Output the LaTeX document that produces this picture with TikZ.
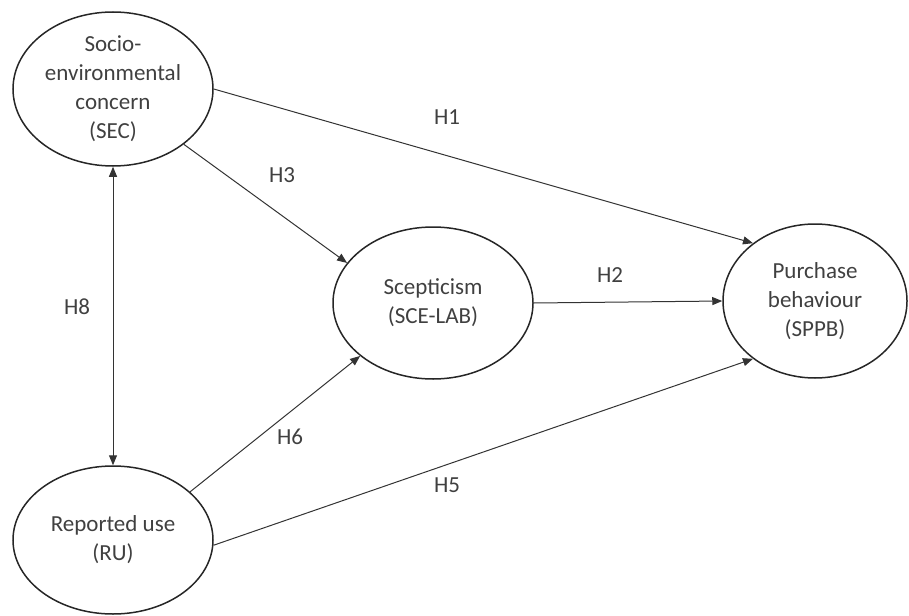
\documentclass[tikz,border=0pt]{standalone}
\usepackage{fontspec}
\setmainfont{Carlito}
\usetikzlibrary{positioning, arrows.meta, shapes.geometric}

\tikzset{
  construct/.style={ellipse, draw=black!85, line width=0.75pt, inner sep=0pt,
    minimum width=100pt, minimum height=77pt, align=center, text=black!75,
    font=\fontsize{11.5pt}{14.5pt}\selectfont},
  path/.style={->, draw=black!80, line width=0.5pt},
  hyp/.style={text=black!75, font=\fontsize{11.5pt}{14.5pt}\selectfont}
}

\begin{document}
\begin{tikzpicture}[x=0.5pt, y=-0.5pt, >={Triangle[length=5pt,width=4pt]}]

% Bounding box
\useasboundingbox (0,0) rectangle (909,615);

% Constructs
\node[construct] (sec) at (113,89) {Socio-\\environmental\\concern\\(SEC)};
\node[construct, minimum height=76pt] (sce) at (433,303) {Scepticism\\(SCE-LAB)};
\node[construct, minimum width=92pt] (pb) at (815,301) {Purchase\\behaviour\\(SPPB)};
\node[construct, minimum height=74pt] (ru) at (113,540) {Reported use\\(RU)};

% Hypothesised paths
\draw[path] (sec.east) -- (pb.137);
\draw[path] (sec.-38) -- (sce.155);
\draw[path] (sce.east) -- (pb.west);
\draw[path] (ru.32) -- (sce.216);
\draw[path] (ru.-3) -- (pb.223);
\draw[path, <->] (sec.south) -- (ru.north);

% Hypothesis labels
\node[hyp] (h1) at (447,117) {H1};
\node[hyp] (h3) at (282,175) {H3};
\node[hyp] (h2) at (610,275) {H2};
\node[hyp] (h8) at (77,307) {H8};
\node[hyp] (h6) at (290,437) {H6};
\node[hyp] (h5) at (447,485) {H5};

\end{tikzpicture}
\end{document}
